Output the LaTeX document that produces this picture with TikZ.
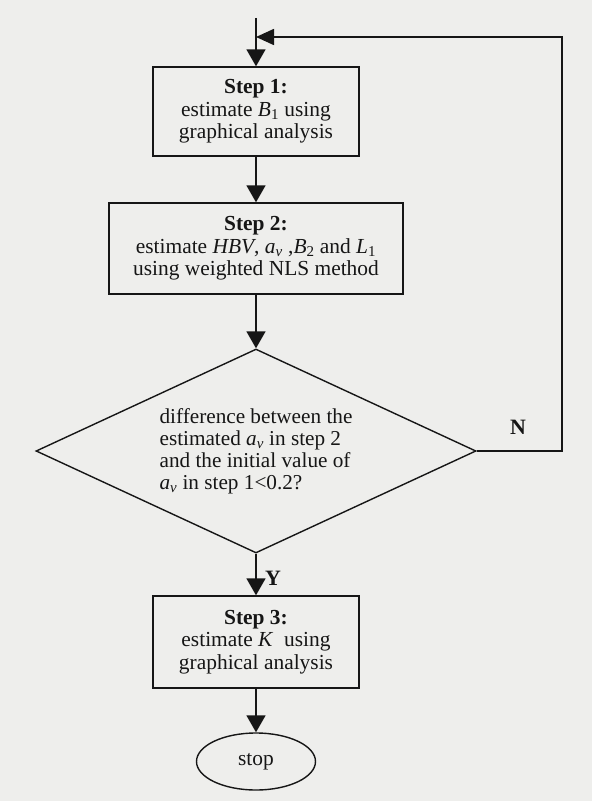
\documentclass[tikz,border=0pt]{standalone}
\usepackage{fontspec}
\setmainfont{Liberation Serif}
\usetikzlibrary{arrows.meta,shapes.geometric}
\definecolor{paper}{RGB}{238,238,236}
\definecolor{ink}{RGB}{22,22,22}
\tikzset{
  stepbox/.style={draw=ink, line width=1.4bp, align=center, text=ink,
    inner sep=0pt, font=\fontsize{21.5}{22.5}\selectfont},
  decision/.style={draw=ink, line width=1.4bp, shape=diamond, aspect=2.15,
    inner sep=0pt, minimum width=440bp, minimum height=204bp, text=ink,
    align=left, font=\fontsize{21.3}{22}\selectfont},
  terminal/.style={draw=ink, line width=1.4bp, shape=ellipse, inner sep=0pt,
    minimum width=119bp, minimum height=57bp, text=ink,
    font=\fontsize{21.5}{21.5}\selectfont},
  flow/.style={draw=ink, line width=1.7bp, -{Triangle[length=17bp,width=19bp]}},
  backflow/.style={draw=ink, line width=1.7bp, -{Triangle[length=18bp,width=16bp]}},
  branchlabel/.style={text=ink, font=\fontsize{22}{22}\selectfont\bfseries, inner sep=0pt},
}
\begin{document}
\begin{tikzpicture}[x=1bp,y=-1bp]
  \fill[paper] (0,0) rectangle (592,801);
  \useasboundingbox (0,0) rectangle (592,801);

  \coordinate (start) at (256,18);
  \coordinate (join) at (256,37);
  \coordinate (rc) at (562,37);

  \node[stepbox, minimum width=206bp, minimum height=89bp] (b1) at (256,111.5)
    {\textbf{Step 1:}\\estimate \textit{B}\textsubscript{1} using\\graphical analysis};
  \node[stepbox, minimum width=294bp, minimum height=91bp] (b2) at (256,248.5)
    {\textbf{Step 2:}\\estimate \textit{HBV}, \textit{a}\textsubscript{\textit{v}} ,\textit{B}\textsubscript{2} and \textit{L}\textsubscript{1}\\using weighted NLS method};
  \node[decision] (d) at (256,451)
    {difference between the\\estimated \textit{a}\textsubscript{\textit{v}} in step 2\\and the initial value of\\\textit{a}\textsubscript{\textit{v}} in step 1<0.2?};
  \node[stepbox, minimum width=206bp, minimum height=92bp] (b3) at (256,642)
    {\textbf{Step 3:}\\estimate \textit{K}\ \ using\\graphical analysis};
  \node[terminal] (stop) at (256,761.5) {stop};

  \draw[flow] (start) -- (b1.north);
  \draw[flow] (b1.south) -- (b2.north);
  \draw[flow] (b2.south) -- (d.north);
  \draw[flow] (d.south) -- (b3.north);
  \draw[flow] (b3.south) -- (stop.north);
  \draw[backflow] (d.east) -| (rc) -- (join);

  \node[branchlabel, anchor=west] (ylab) at (265,578) {Y};
  \node[branchlabel] (nlab) at (518,427) {N};
\end{tikzpicture}
\end{document}
